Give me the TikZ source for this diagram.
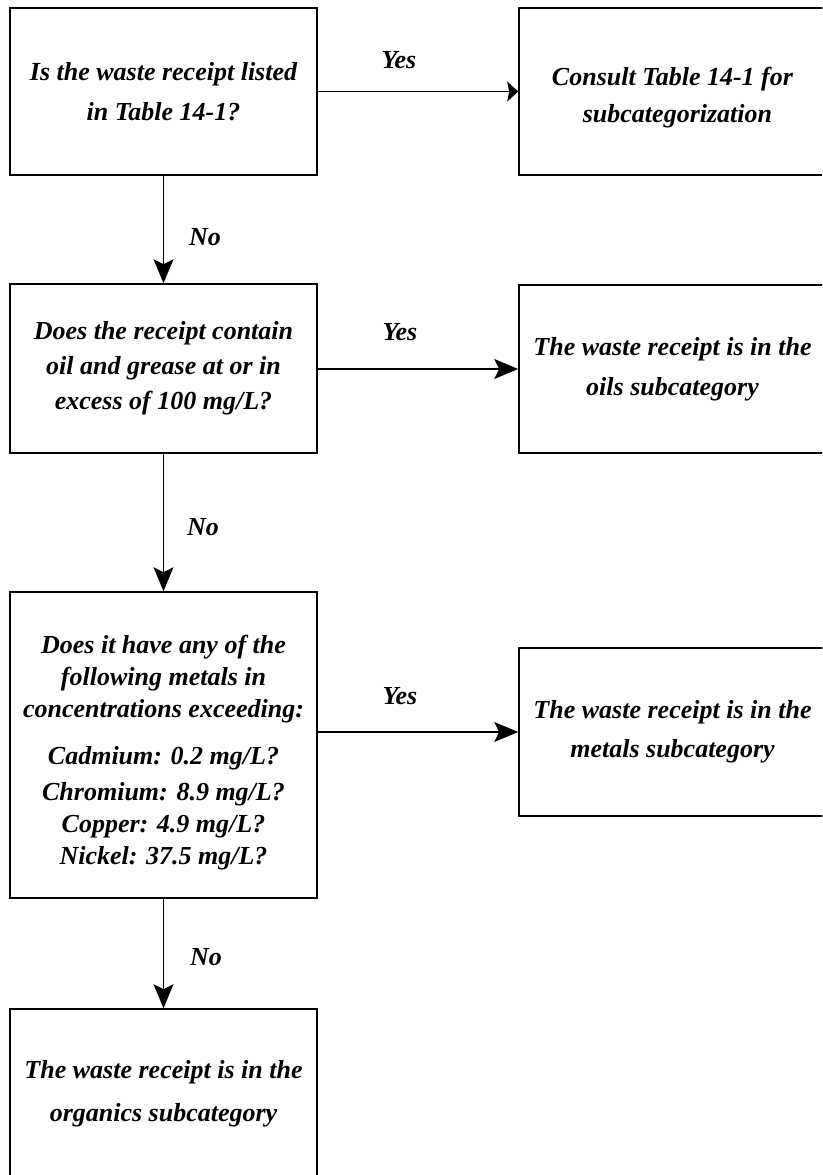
\documentclass[tikz,border=0pt]{standalone}
\usepackage{fontspec}
\setmainfont{Liberation Serif}
\usetikzlibrary{arrows.meta}
\tikzset{
  box/.style={draw=black, line width=1.6pt, minimum width=307pt, align=center, inner sep=0pt,
    font=\fontsize{26}{#1}\selectfont\bfseries\itshape},
  conn/.style={line width=1.3pt, -{Stealth[length=24pt,width=20pt,inset=5pt]}},
  connsmall/.style={line width=1.3pt, -{Stealth[length=11pt,width=20pt,inset=2pt]}},
  lbl/.style={font=\fontsize{26}{30}\selectfont\bfseries\itshape, inner sep=0pt}
}
\begin{document}
\begin{tikzpicture}[x=1pt,y=-1pt]
\useasboundingbox (0,0) rectangle (822,1175);
\clip (0,0) rectangle (822,1175);
\fill[white] (0,0) rectangle (822,1175);

\node[box=40, minimum height=167pt] (b1) at (163.5,91.5)
  {Is the waste receipt listed\\in Table 14-1?};
\node[box=37, minimum height=167pt] (b2) at (672.5,91.5)
  {\rule{0pt}{30pt}Consult Table 14-1 for\\\hspace*{10pt}subcategorization};
\node[box=35, minimum height=169pt] (b3) at (163.5,368.5)
  {Does the receipt contain\\oil and grease at or in\\excess of 100 mg/L?};
\node[box=40, minimum height=168pt] (b4) at (672.5,369)
  {The waste receipt is in the\\oils subcategory};
\node[box=32, minimum height=306pt] (b5) at (163.5,745)
  {\rule{0pt}{34pt}Does it have any of the\\following metals in\\concentrations exceeding:\\[15pt]
   Cadmium: 0.2 mg/L?\\[4pt]Chromium: 8.9 mg/L?\\Copper: 4.9 mg/L?\\Nickel: 37.5 mg/L?};
\node[box=39, minimum height=168pt] (b6) at (672.5,732)
  {The waste receipt is in the\\metals subcategory};
\node[box=43, minimum height=169pt] (b7) at (163.5,1093.5)
  {The waste receipt is in the\\organics subcategory};

\draw[connsmall] (b1.east) -- (b2.west);
\draw[conn] (b3.east |- b4.west) -- (b4.west);
\draw[conn] (b5.east |- b6.west) -- (b6.west);
\draw[conn] (b1.south) -- (b3.north);
\draw[conn] (b3.south) -- (b5.north);
\draw[conn] (b5.south) -- (b7.north);

\node[lbl] (y1) at (399,60) {Yes};
\node[lbl] (y2) at (400,332) {Yes};
\node[lbl] (y3) at (400,696) {Yes};
\node[lbl] (n1) at (205,237) {No};
\node[lbl] (n2) at (203,527) {No};
\node[lbl] (n3) at (206,957) {No};
\end{tikzpicture}
\end{document}
